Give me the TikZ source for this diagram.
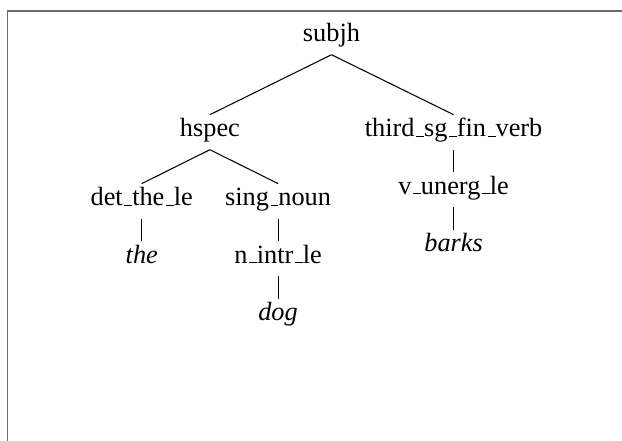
\documentclass[tikz,border=0pt]{standalone}
\usepackage{fontspec}
\setmainfont{Liberation Serif}
\usepackage{tikz}
\usetikzlibrary{positioning}

\newcommand{\us}{\leavevmode\kern.06em\vbox{\hrule width.3em}}

\begin{document}
\begin{tikzpicture}[
    on grid,
    treenode/.style={inner sep=0pt, text height=8.17pt, text depth=4.75pt, font=\fontsize{10}{12}\selectfont},
    leafnode/.style={treenode, font=\fontsize{10}{12}\selectfont\itshape}
]
\useasboundingbox (0,0) rectangle (236.36pt,-167.58pt);
\draw[black!57, line width=0.76pt] (2.85pt,-167.58pt) -- (2.85pt,-4.18pt) -- (236.36pt,-4.18pt);

\node[treenode](subjh) at (125.97pt,-14.14pt){subjh};
\node[treenode](hspec)[below left = 36.1pt and 46.2pt of subjh]{hspec};
\node[treenode](third)[below right = 36.1pt and 46.4pt of subjh]{third\us sg\us fin\us verb};
\node[treenode](det)[below left = 26.2pt and 25.9pt of hspec]{det\us the\us le};
\node[treenode](sing)[below right = 26.2pt and 25.9pt of hspec]{sing\us noun};
\node[leafnode](the)[below = 21.85pt of det]{the};
\node[treenode](nintr)[below = 21.85pt of sing]{n\us intr\us le};
\node[leafnode](dog)[below = 21.85pt of nintr]{dog};
\node[treenode](vunerg)[below = 21.85pt of third]{v\us unerg\us le};
\node[leafnode](barks)[below = 21.85pt of vunerg]{barks};

\draw (subjh.south) -- (hspec.north);
\draw (subjh.south) -- (third.north);
\draw (hspec.south) -- (det.north);
\draw (hspec.south) -- (sing.north);
\draw (det.south) -- (the.north);
\draw (sing.south) -- (nintr.north);
\draw (nintr.south) -- (dog.north);
\draw (third.south) -- (vunerg.north);
\draw (vunerg.south) -- (barks.north);
\end{tikzpicture}
\end{document}
